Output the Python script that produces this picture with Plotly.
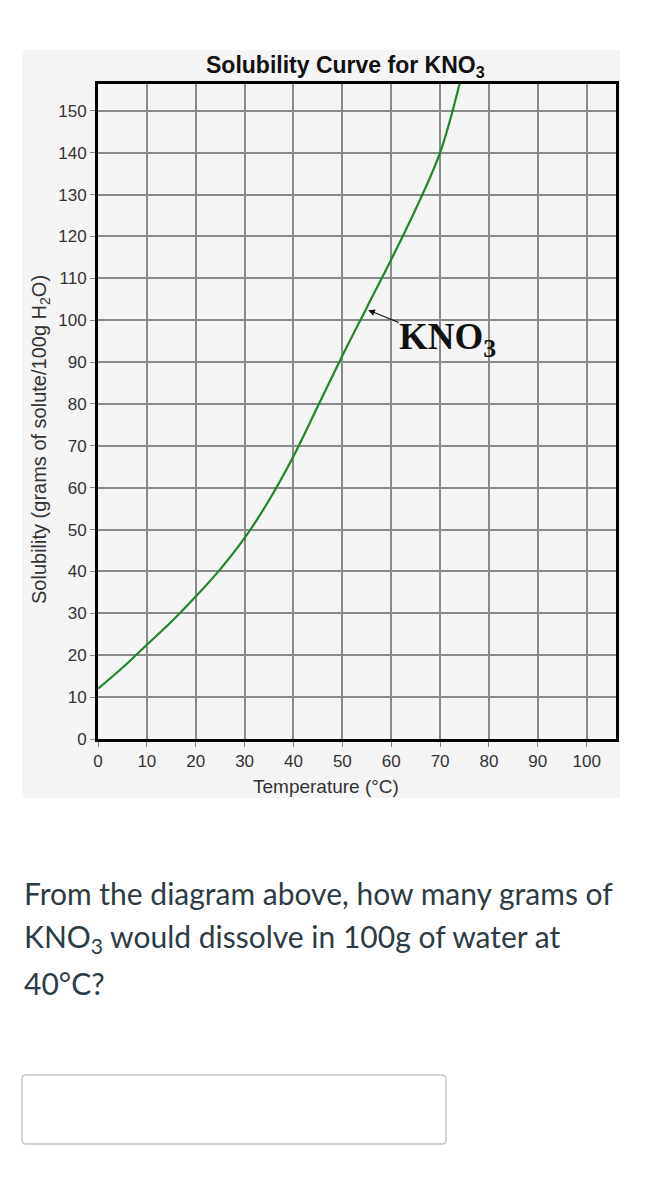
import plotly.graph_objects as go

# ---- data ----
temperature_c = [0, 5, 10, 15, 20, 25, 30, 35, 40, 45, 50, 55, 60, 65, 70, 74]
solubility_kno3 = [12, 17, 22.5, 28, 34, 40.5, 48, 57, 67.5, 79.5, 91.5, 103, 114.5, 126.5, 140, 156.5]
x_ticks = [0, 10, 20, 30, 40, 50, 60, 70, 80, 90, 100]
y_ticks = [0, 10, 20, 30, 40, 50, 60, 70, 80, 90, 100, 110, 120, 130, 140, 150]
label_point = (55.3, 102.4)  # where the KNO3 arrow touches the curve

W, H = 658, 1200
L, R, T, B = 98, 42, 84, 461
PW, PH = W - L - R, H - T - B


def fx(p):
    return (p - L) / PW


def fy(p):
    return (H - B - p) / PH


fig = go.Figure()
fig.add_trace(go.Scatter(
    x=temperature_c, y=solubility_kno3, mode="lines",
    line=dict(color="#22852a", width=2.2, shape="spline", smoothing=1.0),
    hoverinfo="skip", showlegend=False,
))

axis_common = dict(
    showgrid=True, gridcolor="#8a8a8a", gridwidth=1.5,
    showline=True, linecolor="#000000", linewidth=3, mirror=True,
    ticks="outside", ticklen=5, tickcolor="#888888", tickwidth=1,
    zeroline=False, tickfont=dict(family="Arial", size=17, color="#333333"),
    fixedrange=True,
)
fig.update_xaxes(range=[0, 106], tickvals=x_ticks, **axis_common)
fig.update_yaxes(range=[0, 156.4], tickvals=y_ticks, **axis_common)

shapes = [
    # light grey panel behind the chart image
    dict(type="rect", xref="paper", yref="paper", layer="below",
         x0=fx(22), x1=fx(620), y0=fy(798), y1=fy(50),
         fillcolor="#f5f5f5", line=dict(width=0)),
]
# answer input box with rounded corners
bx0, bx1, by0, by1, r = 22, 446, 1075, 1144, 4
path = (f"M {fx(bx0 + r)},{fy(by0)} L {fx(bx1 - r)},{fy(by0)} "
        f"Q {fx(bx1)},{fy(by0)} {fx(bx1)},{fy(by0 + r)} "
        f"L {fx(bx1)},{fy(by1 - r)} Q {fx(bx1)},{fy(by1)} {fx(bx1 - r)},{fy(by1)} "
        f"L {fx(bx0 + r)},{fy(by1)} Q {fx(bx0)},{fy(by1)} {fx(bx0)},{fy(by1 - r)} "
        f"L {fx(bx0)},{fy(by0 + r)} Q {fx(bx0)},{fy(by0)} {fx(bx0 + r)},{fy(by0)} Z")
shapes.append(dict(type="path", xref="paper", yref="paper", path=path,
                   fillcolor="#ffffff", line=dict(color="#c4c7ca", width=1.5)))

annotations = [
    dict(text="<b>Solubility Curve for KNO<sub>3</sub></b>", xref="paper", yref="paper",
         x=fx(345), y=fy(66), xanchor="center", yanchor="middle", showarrow=False,
         font=dict(family="Arial", size=23, color="#111111")),
    dict(text="Temperature (°C)", xref="paper", yref="paper",
         x=fx(326), y=fy(786), xanchor="center", yanchor="middle", showarrow=False,
         font=dict(family="Arial", size=19, color="#333333")),
    dict(text="Solubility (grams of solute/100g H<sub>2</sub>O)", xref="paper", yref="paper",
         x=fx(40), y=fy(440), xanchor="center", yanchor="middle", showarrow=False,
         textangle=-90, font=dict(family="Arial", size=20, color="#333333")),
    # arrow pointing at the curve
    dict(text="", x=label_point[0], y=label_point[1], xref="x", yref="y",
         showarrow=True, ax=32, ay=13, arrowhead=2, arrowsize=1.1, arrowwidth=1.2,
         arrowcolor="#111111", standoff=0),
    dict(text="<b>KNO<sub>3</sub></b>", xref="paper", yref="paper",
         x=fx(397), y=fy(339), xanchor="left", yanchor="middle", showarrow=False,
         font=dict(family="Liberation Serif", size=37, color="#111111")),
]

q_font = dict(family="Lato", size=30, color="#2d3b45")
question_lines = [
    "From the diagram above, how many grams of",
    "KNO<sub>3</sub> would dissolve in 100g of water at",
    "40°C?",
]
for line, yc in zip(question_lines, [893, 938, 983]):
    annotations.append(dict(text=line, xref="paper", yref="paper", x=fx(22), y=fy(yc),
                            xanchor="left", yanchor="middle", showarrow=False, font=q_font))

fig.update_layout(
    width=W, height=H,
    margin=dict(l=L, r=R, t=T, b=B, pad=0),
    paper_bgcolor="#ffffff", plot_bgcolor="#f7f7f7",
    shapes=shapes, annotations=annotations, showlegend=False,
)

fig.write_html("out.html", config={"displayModeBar": False})
